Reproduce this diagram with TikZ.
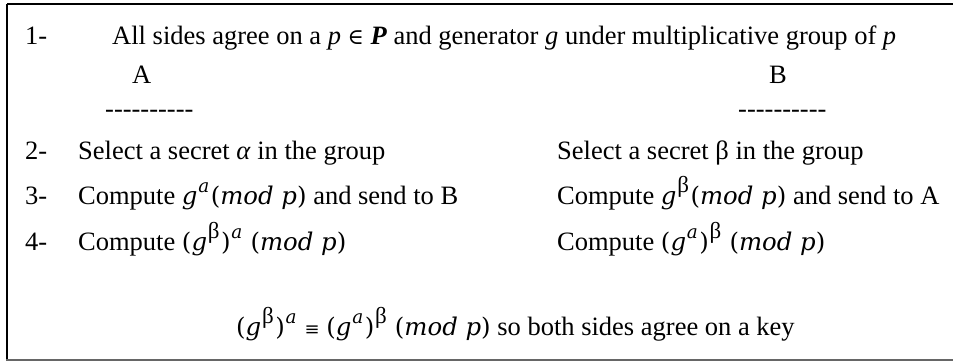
\documentclass[tikz,border=0pt]{standalone}
\usepackage{fontspec}
\setmainfont{Liberation Serif}
\newfontfamily\symfont{DejaVu Serif}
\newfontfamily\mfontit{DejaVu Serif}[Scale=0.92]
\newcommand{\upidx}[1]{\raisebox{0.45em}{\fontsize{20}{20}\selectfont\hspace{0.8pt}#1\hspace{1.5pt}}}
\newcommand{\mi}[1]{{\mfontit\itshape #1}}
\newcommand{\mb}{{\fontsize{23}{23}\selectfont β}}
\newcommand{\lp}{{\mfontit (}}
\newcommand{\rp}{{\mfontit )}}
\begin{document}
\begin{tikzpicture}[x=1pt,y=-1pt,
  txt/.style={anchor=base west,inner sep=0pt,font=\fontsize{26.5}{31}\selectfont},
  frameline/.style={line width=1.6pt,black},
  bottomline/.style={line width=2.2pt,black!60}]
\useasboundingbox (0,0) rectangle (953,362);
\draw[frameline] (7,4) -- (953,4);
\draw[frameline] (7,4) -- (7,361);
\draw[bottomline] (6,360) -- (953,360);
% line 1
\node[txt] (n1) at (25,44) {1-};
\node[txt] (l1) at (112,44) {All sides agree on a \textit{p} {\symfont\fontsize{22}{24}\selectfont ∈} \textbf{\textit{P}} and generator \textit{g} under multiplicative group of \textit{p}};
\node[txt] (A) at (132,83) {A};
\node[txt] (B) at (769,83) {B};
\node[txt] (dA) at (105,117) {{-}{-}{-}{-}{-}{-}{-}{-}{-}{-}};
\node[txt] (dB) at (738,117) {{-}{-}{-}{-}{-}{-}{-}{-}{-}{-}};
% line 2
\node[txt] (n2) at (25,159) {2-};
\node[txt] (a2) at (78,159) {Select a secret \textit{α} in the group};
\node[txt] (b2) at (557,159) {Select a secret β in the group};
% line 3
\node[txt] (n3) at (25,204) {3-};
\node[txt] (a3) at (78,204) {Compute \mi{g}\upidx{\mi{a}}\lp\mi{mod p}\rp{} and send to B};
\node[txt] (b3) at (557,204) {Compute \mi{g}\upidx{\mb}\lp\mi{mod p}\rp{} and send to A};
% line 4
\node[txt] (n4) at (25,250) {4-};
\node[txt] (a4) at (78,250) {Compute \lp\mi{g}\upidx{\mb}\rp\upidx{\mi{a}} \lp\mi{mod p}\rp};
\node[txt] (b4) at (557,250) {Compute \lp\mi{g}\upidx{\mi{a}}\rp\upidx{\mb} \lp\mi{mod p}\rp};
% bottom
\node[txt] (res) at (236,335) {\lp\mi{g}\upidx{\mb}\rp\upidx{\mi{a}} {\symfont\fontsize{18}{20}\selectfont ≡} \lp\mi{g}\upidx{\mi{a}}\rp\upidx{\mb} \lp\mi{mod p}\rp{} so both sides agree on a key};
\end{tikzpicture}
\end{document}
